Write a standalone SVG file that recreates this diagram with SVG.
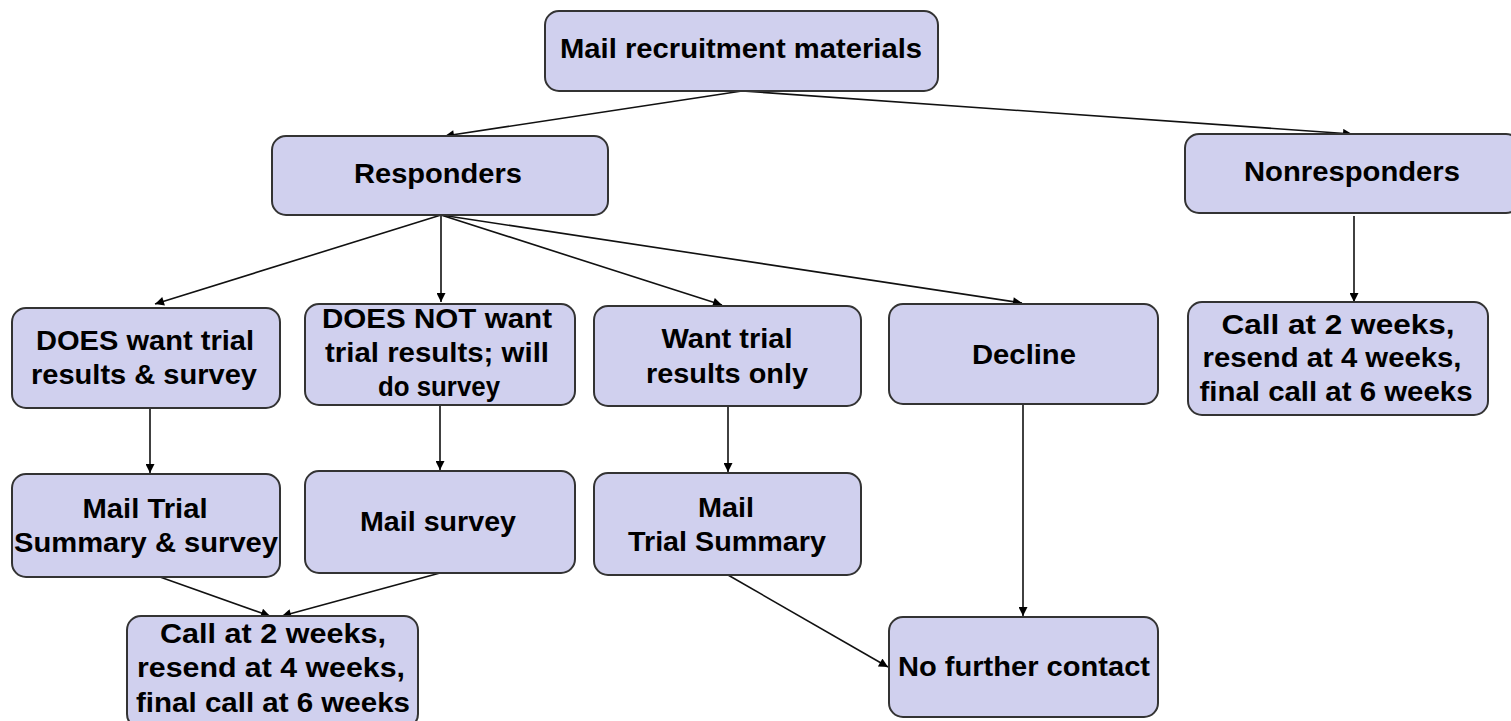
<svg xmlns="http://www.w3.org/2000/svg" width="1511" height="721" viewBox="0 0 1511 721">
<defs>
<marker id="ah" viewBox="0 0 10 10" refX="10" refY="5" markerWidth="10" markerHeight="9" markerUnits="userSpaceOnUse" orient="auto">
<path d="M0,0 L10,5 L0,10 z" fill="#000"/>
</marker>
<style>
.box{fill:#d0d0ee;stroke:#333;stroke-width:2}
.t{font-family:"Liberation Sans",Arial,sans-serif;font-weight:bold;font-size:28px;fill:#000;text-anchor:middle}
.c{stroke:#111;stroke-width:1.6;fill:none;marker-end:url(#ah)}
</style>
</defs>
<rect width="1511" height="721" fill="#fff"/>
<g id="connectors">
<line class="c" x1="742" y1="91" x2="445" y2="136"/>
<line class="c" x1="742" y1="91" x2="1352" y2="134"/>
<line class="c" x1="441" y1="215" x2="155" y2="304"/>
<line class="c" x1="441" y1="215" x2="441" y2="302"/>
<line class="c" x1="441" y1="215" x2="722" y2="305"/>
<line class="c" x1="441" y1="215" x2="1022" y2="303"/>
<line class="c" x1="1354" y1="216" x2="1354" y2="302"/>
<line class="c" x1="150" y1="408" x2="150" y2="473"/>
<line class="c" x1="440" y1="405" x2="440" y2="470"/>
<line class="c" x1="728" y1="406" x2="728" y2="472"/>
<line class="c" x1="1023" y1="404" x2="1023" y2="616"/>
<line class="c" x1="160" y1="577" x2="270" y2="616"/>
<line class="c" x1="440" y1="573" x2="282" y2="616"/>
<line class="c" x1="728" y1="575" x2="888" y2="667"/>
</g>
<g id="mail-recruitment">
<rect class="box" x="545" y="11" width="393" height="80" rx="14"/>
<text class="t" x="741" y="58" textLength="362" lengthAdjust="spacingAndGlyphs">Mail recruitment materials</text>
</g>
<g id="responders">
<rect class="box" x="272" y="136" width="336" height="79" rx="14"/>
<text class="t" x="438" y="183" textLength="168" lengthAdjust="spacingAndGlyphs">Responders</text>
</g>
<g id="nonresponders">
<rect class="box" x="1185" y="134" width="335" height="79" rx="14"/>
<text class="t" x="1352" y="181" textLength="216" lengthAdjust="spacingAndGlyphs">Nonresponders</text>
</g>
<g id="does-want">
<rect class="box" x="12" y="308" width="268" height="100" rx="14"/>
<text class="t" x="145" y="350" textLength="218" lengthAdjust="spacingAndGlyphs">DOES want trial</text>
<text class="t" x="144" y="384" textLength="226" lengthAdjust="spacingAndGlyphs">results &amp; survey</text>
</g>
<g id="does-not-want">
<rect class="box" x="305" y="304" width="270" height="101" rx="14"/>
<text class="t" x="437" y="328" textLength="230" lengthAdjust="spacingAndGlyphs">DOES NOT want</text>
<text class="t" x="437" y="362" textLength="224" lengthAdjust="spacingAndGlyphs">trial results; will</text>
<text class="t" x="439" y="396" textLength="122" lengthAdjust="spacingAndGlyphs">do survey</text>
</g>
<g id="want-results-only">
<rect class="box" x="594" y="306" width="267" height="100" rx="14"/>
<text class="t" x="727" y="348" textLength="131" lengthAdjust="spacingAndGlyphs">Want trial</text>
<text class="t" x="727" y="383" textLength="162" lengthAdjust="spacingAndGlyphs">results only</text>
</g>
<g id="decline">
<rect class="box" x="889" y="304" width="269" height="100" rx="14"/>
<text class="t" x="1024" y="364" textLength="104" lengthAdjust="spacingAndGlyphs">Decline</text>
</g>
<g id="nonresp-call">
<rect class="box" x="1188" y="302" width="300" height="113" rx="14"/>
<text class="t" x="1338" y="334" textLength="233" lengthAdjust="spacingAndGlyphs">Call at 2 weeks,</text>
<text class="t" x="1332" y="367" textLength="259" lengthAdjust="spacingAndGlyphs">resend at 4 weeks,</text>
<text class="t" x="1336" y="401" textLength="273" lengthAdjust="spacingAndGlyphs">final call at 6 weeks</text>
</g>
<g id="mail-summary-survey">
<rect class="box" x="12" y="474" width="268" height="103" rx="14"/>
<text class="t" x="145" y="518" textLength="125" lengthAdjust="spacingAndGlyphs">Mail Trial</text>
<text class="t" x="146" y="552" textLength="264" lengthAdjust="spacingAndGlyphs">Summary &amp; survey</text>
</g>
<g id="mail-survey">
<rect class="box" x="305" y="471" width="270" height="102" rx="14"/>
<text class="t" x="438" y="531" textLength="156" lengthAdjust="spacingAndGlyphs">Mail survey</text>
</g>
<g id="mail-summary">
<rect class="box" x="594" y="473" width="267" height="102" rx="14"/>
<text class="t" x="726" y="517" textLength="56" lengthAdjust="spacingAndGlyphs">Mail</text>
<text class="t" x="727" y="551" textLength="198" lengthAdjust="spacingAndGlyphs">Trial Summary</text>
</g>
<g id="resp-call">
<rect class="box" x="127" y="616" width="291" height="112" rx="14"/>
<text class="t" x="273" y="643" textLength="226" lengthAdjust="spacingAndGlyphs">Call at 2 weeks,</text>
<text class="t" x="271" y="677" textLength="268" lengthAdjust="spacingAndGlyphs">resend at 4 weeks,</text>
<text class="t" x="273" y="712" textLength="274" lengthAdjust="spacingAndGlyphs">final call at 6 weeks</text>
</g>
<g id="no-further">
<rect class="box" x="889" y="617" width="269" height="100" rx="14"/>
<text class="t" x="1024" y="676" textLength="252" lengthAdjust="spacingAndGlyphs">No further contact</text>
</g>
</svg>
